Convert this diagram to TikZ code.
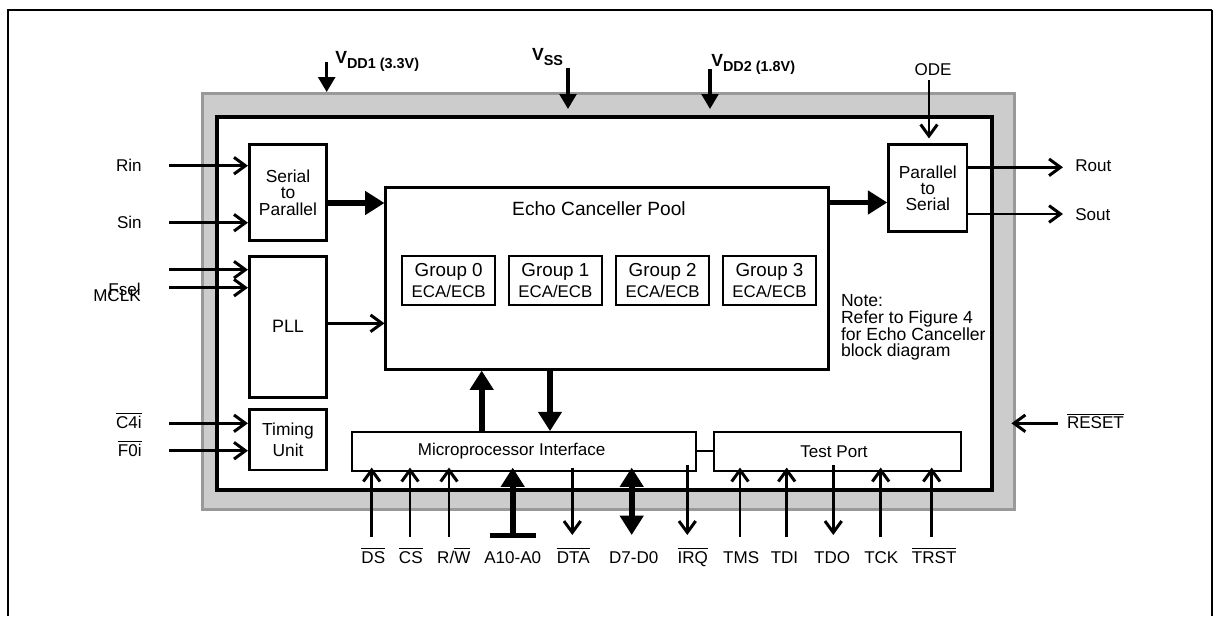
\documentclass[tikz,border=0pt]{standalone}
\usepackage{fontspec}
\setmainfont{Liberation Sans}
\usetikzlibrary{arrows.meta,positioning}
\newcommand{\ovl}[1]{$\overline{\mbox{#1}}$}
\newcommand{\vlbl}[1]{{\fontsize{10}{10}\selectfont\bfseries V}\raisebox{-3pt}{\fontsize{8.2}{9}\selectfont\bfseries #1}}
\tikzset{
	every node/.style={font=\fontsize{9.7}{11}\selectfont, inner sep=0pt},
	blk/.style={draw, line width=1.5pt, fill=white, align=center, minimum width=1.55cm},
	grp/.style={draw, line width=1.4pt, align=center, minimum width=1.86cm, minimum height=0.99cm, font=\fontsize{10.7}{12.5}\selectfont},
	port/.style={draw, line width=1.1pt, minimum height=0.77cm},
	sig/.style={line width=1.7pt, -{Straight Barb[length=6.5pt,width=9.5pt]}},
	pwr/.style={line width=1.8pt, -{Triangle[length=8.5pt,width=9.5pt]}},
	bus/.style={line width=3.4pt, -{Triangle[length=11pt,width=13pt]}},
	busboth/.style={line width=3.4pt, {Triangle[length=11pt,width=13pt]}-{Triangle[length=11pt,width=13pt]}}
}
\begin{document}
\begin{tikzpicture}[x=0.02cm, y=-0.02cm]
	\useasboundingbox (0,0) rectangle (1215,616);
	% frame
	\draw[line width=1.1pt] (8,616) -- (8,10) -- (1212,10);
	\draw[line width=0.8pt] (1212,10) -- (1212,616);
	% package and die
	\node[draw=gray!80, fill=gray!40, line width=1.7pt, minimum width=16.25cm, minimum height=8.33cm] (pkg) at (608.75,301.75) {};
	\node[draw, fill=white, line width=2.3pt, minimum width=15.51cm, minimum height=7.48cm] (die) at (604.75,303.5) {};
	% blocks
	\node[blk, minimum height=1.92cm, font=\fontsize{9.9}{9.6}\selectfont] (ser) at (288,192.75) {Serial\\to\\Parallel};
	\node[blk, minimum height=2.82cm, font=\fontsize{10.2}{11}\selectfont] (pll) at (288,326.8) {PLL};
	\node[blk, minimum height=1.21cm, font=\fontsize{9.9}{12}\selectfont] (tim) at (288,439.85) {Timing\\Unit};
	\node[blk, minimum width=8.85cm, minimum height=3.64cm] (pool) at (607,278.25) {};
	\node[font=\fontsize{10.9}{12}\selectfont] (pooltitle) at (599,208.5) {Echo Canceller Pool};
	\foreach \i/\x in {0/448.7,1/555.4,2/662.7,3/769.5}
		\node[grp] (g\i) at (\x,280.5) {Group \i\\{\fontsize{9.6}{12.5}\selectfont ECA/ECB}};
	\node[anchor=west, align=left, font=\fontsize{10}{9.45}\selectfont] (note) at (840.7,327.5) {Note:\\Refer to Figure 4\\for Echo Canceller\\block diagram};
	\node[blk, minimum width=1.57cm, minimum height=1.73cm, font=\fontsize{9.9}{9.2}\selectfont] (p2s) at (927.85,188) {Parallel\\to\\Serial};
	\node[port, minimum width=6.89cm, label={[name=mpitext, xshift=-0.25cm]center:Microprocessor Interface}] (mpi) at (524.15,451.35) {};
	\node[port, minimum width=4.94cm] (tp) at (837.8,451.35) {\hspace*{-0.15cm}Test Port};
	\draw[line width=1.1pt] (mpi) -- (tp);
	% supplies
	\coordinate (vdd1) at (326.7,62);
	\coordinate (vss) at (568,68);
	\coordinate (vdd2) at (710,69);
	\draw[pwr] (vdd1) -- (vdd1 |- pkg.north);
	\draw[pwr, shorten >=0.11cm] (vss) -- (vss |- die.north);
	\draw[pwr, shorten >=0.11cm] (vdd2) -- (vdd2 |- die.north);
	\node[anchor=base west] (vdd1lbl) at (335,63.5) {\vlbl{DD1 (3.3V)}};
	\node[anchor=base west] (vsslbl) at (531.7,60) {\vlbl{SS}};
	\node[anchor=base west] (vdd2lbl) at (711,66.7) {\vlbl{DD2 (1.8V)}};
	% left inputs
	\foreach \y/\nm/\blk in {165.7/rin/ser, 222.7/sin/ser, 269.7/fsel/pll, 287.7/mclk/pll, 423.3/cfour/tim, 450.7/fzero/tim}
		\draw[sig] (169,\y) coordinate (\nm) -- (\nm -| \blk.west);
	\node[anchor=base east] (rinlbl) at (142,171.7) {Rin};
	\node[anchor=base east] (sinlbl) at (142,228.3) {Sin};
	\node[anchor=base east] (fsellbl) at (141,295) {Fsel};
	\node[anchor=base east] (mclklbl) at (141,301.5) {MCLK};
	\node[anchor=base east] (cfourlbl) at (142,428) {\ovl{C4i}};
	\node[anchor=base east] (fzerolbl) at (142,456) {\ovl{F0i}};
	% internal paths
	\draw[sig] (pll.east |- 0,323.3) -- (pool.west |- 0,323.3);
	\draw[bus] (ser.east |- 0,203) -- (pool.west |- 0,203);
	\draw[bus] (pool.east |- 0,202.5) -- (p2s.west |- 0,202.5);
	\draw[bus] (481.7,0 |- mpi.north) -- (481.7,0 |- pool.south);
	\draw[bus] (550,0 |- pool.south) -- (550,0 |- mpi.north);
	% right side
	\node[anchor=base] (odelbl) at (933,75) {ODE};
	\coordinate (ode) at (929,80);
	\draw[sig, shorten >=0.1cm] (ode) -- (ode |- p2s.north);
	\coordinate (rout) at (1063,167.3);
	\coordinate (sout) at (1063,214);
	\draw[sig] (p2s.east |- rout) -- (rout);
	\draw[sig] (p2s.east |- sout) -- (sout);
	\node[anchor=base west] (routlbl) at (1075,171.7) {Rout};
	\node[anchor=base west] (soutlbl) at (1075,220) {Sout};
	\coordinate (rst) at (1057.7,423.3);
	\draw[sig, shorten >=-0.1cm] (rst) -- (rst -| pkg.east);
	\node[anchor=base west] (rstlbl) at (1066.7,428.3) {\ovl{RESET}};
	% bottom pins
	\foreach \x/\nm in {371.7/ds, 410/cs, 449/rw}
		\draw[sig, shorten >=-0.08cm] (\x,537) coordinate (\nm) -- (\nm |- mpi.south);
	\foreach \x/\nm in {740/tms, 786.7/tdi, 880.7/tck, 931.7/trst}
		\draw[sig, shorten >=-0.08cm] (\x,537) coordinate (\nm) -- (\nm |- tp.south);
	\foreach \x/\nm in {572.3/dta, 687.3/irq}
		\coordinate (\nm) at (\x,535);
	\coordinate (tdo) at (833.3,535);
	\draw[sig, shorten <=-0.08cm] (dta |- mpi.south) -- (dta);
	\draw[sig, shorten <=-0.14cm] (irq |- mpi.south) -- (irq);
	\draw[sig, shorten <=-0.13cm] (tdo |- tp.south) -- (tdo);
	\coordinate (abus) at (512.7,535.8);
	\coordinate (dbus) at (631.7,535);
	\draw[bus, shorten >=-0.08cm] (abus) -- (abus |- mpi.south);
	\draw[line width=2.9pt] ([xshift=-0.464cm]abus) -- ([xshift=0.464cm]abus);
	\draw[busboth, shorten >=-0.08cm] (dbus) -- (dbus |- mpi.south);
	\foreach \x/\nm/\t in {373.3/ds/\ovl{DS}, 410.8/cs/\ovl{CS}, 453.8/rw/{R/\ovl{W}}, 512.8/abus/A10-A0, 573.3/dta/\ovl{DTA}, 633.8/dbus/D7-D0, 692.8/irq/\ovl{IRQ}, 741.2/tms/TMS, 784.5/tdi/TDI, 832.2/tdo/TDO, 881.3/tck/TCK, 934.2/trst/\ovl{TRST}}
		\node[anchor=base] (\nm lbl) at (\x,563) {\t};
\end{tikzpicture}
\end{document}
